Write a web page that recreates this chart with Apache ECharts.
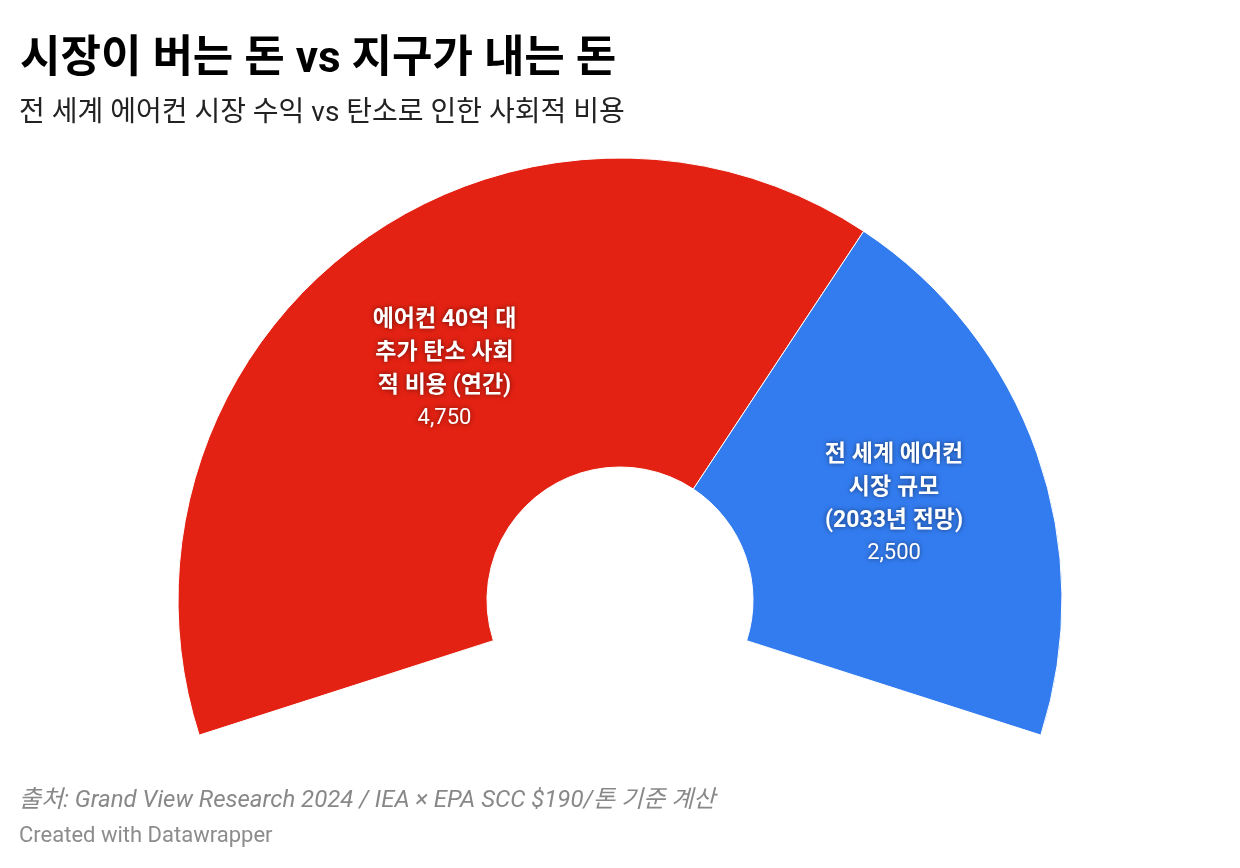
<!DOCTYPE html>
<html>
<head>
<meta charset="utf-8">
<title>시장이 버는 돈 vs 지구가 내는 돈</title>
<script src="https://cdn.jsdelivr.net/npm/echarts@6/dist/echarts.min.js"></script>
<style>
  html, body { margin: 0; padding: 0; background: #fff; }
  #figure { width: 1240px; height: 868px; }
</style>
</head>
<body>
<div id="figure"></div>
<script>
var categories = ['에어컨 40억 대 추가 탄소 사회적 비용 (연간)', '전 세계 에어컨 시장 규모 (2033년 전망)'];
var labelLines = [
    ['에어컨 40억 대', '추가 탄소 사회', '적 비용 (연간)'],
    ['전 세계 에어컨', '시장 규모', '(2033년 전망)']
];
var values = [4750, 2500];
var colors = ['#e32213', '#337cf0'];

var font = "Roboto, 'Noto Sans CJK KR', sans-serif";

var pieData = [];
for (var i = 0; i < categories.length; i++) {
    pieData.push({
        name: categories[i],
        value: values[i],
        itemStyle: { color: colors[i] }
    });
}

var figure = echarts.init(document.getElementById('figure'));
var option = {
    animation: false,
    title: [{
        text: '시장이 버는 돈 vs 지구가 내는 돈',
        left: 15,
        top: 34,
        textStyle: { fontFamily: font, fontSize: 44, fontWeight: 'bold', color: '#000' }
    }, {
        text: '전 세계 에어컨 시장 수익 vs 탄소로 인한 사회적 비용',
        left: 14,
        top: 95,
        textStyle: { fontFamily: font, fontSize: 28, fontWeight: 'normal', color: '#222' }
    }, {
        text: '출처: Grand View Research 2024 / IEA × EPA SCC $190/톤 기준 계산',
        left: 14,
        top: 784,
        textStyle: { fontFamily: font, fontSize: 24, fontStyle: 'italic', fontWeight: 'normal', color: '#888' }
    }, {
        text: 'Created with Datawrapper',
        left: 14,
        top: 820,
        textStyle: { fontFamily: font, fontSize: 22, fontWeight: 'normal', color: '#8c8c8c' }
    }],
    series: [{
        type: 'pie',
        center: [620, 600],
        radius: [133, 442],
        startAngle: 197.8,
        endAngle: -17.8,
        clockwise: true,
        avoidLabelOverlap: false,
        emphasis: { disabled: true },
        itemStyle: { borderColor: '#fff', borderWidth: 1 },
        label: {
            show: true,
            position: 'inside',
            fontFamily: font,
            color: '#fff',
            textShadowColor: 'rgba(0,0,0,0.55)',
            textShadowBlur: 5,
            formatter: function (p) {
                var lines = labelLines[p.dataIndex].map(function (l) { return '{b|' + l + '}'; });
                return lines.join('\n') + '\n{v|' + p.value.toLocaleString('en-US') + '}';
            },
            rich: {
                b: { fontFamily: font, fontSize: 23, fontWeight: 'bold', color: '#fff', lineHeight: 33,
                     textShadowColor: 'rgba(0,0,0,0.55)', textShadowBlur: 5 },
                v: { fontFamily: font, fontSize: 22, fontWeight: 'normal', color: '#fff', lineHeight: 30,
                     textShadowColor: 'rgba(0,0,0,0.55)', textShadowBlur: 5 }
            }
        },
        labelLine: { show: false },
        data: pieData
    }]
};

figure.setOption(option);
</script>
</body>
</html>
